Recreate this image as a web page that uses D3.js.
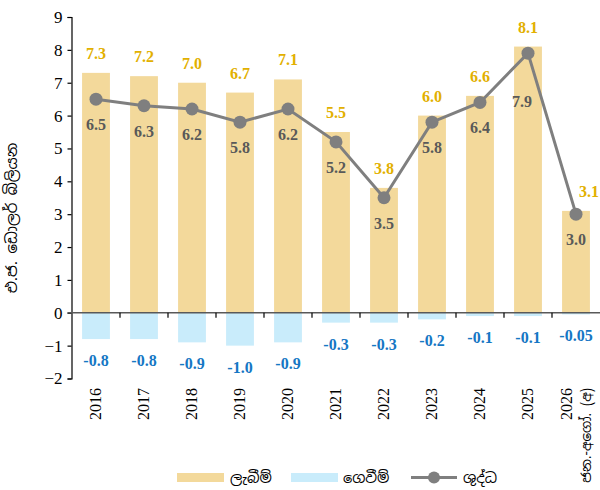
<!DOCTYPE html>
<html>
<head>
<meta charset="utf-8">
<script src="https://cdn.jsdelivr.net/npm/d3@7"></script>
<style>
  html, body { margin: 0; padding: 0; background: #fff; }
  svg { display: block; }
  .serif { font-family: "Times New Roman", "Liberation Serif", serif; }
  .sin { font-family: "Noto Sans Sinhala", "Iskoola Pota", "Noto Sans", sans-serif; }
</style>
</head>
<body>
<svg id="chart" width="600" height="490"></svg>
<script>
// Categories (years); the last one is a partial year, drawn on two lines
const years = ["2016", "2017", "2018", "2019", "2020", "2021", "2022", "2023", "2024", "2025", "2026"];
const lastYearNote = "ජන.-අගෝ. (අ)";

// Series values, US$ billion
const receipts = [7.3, 7.2, 7.0, 6.7, 7.1, 5.5, 3.8, 6.0, 6.6, 8.1, 3.1];
const payments = [-0.8, -0.8, -0.9, -1.0, -0.9, -0.3, -0.3, -0.2, -0.1, -0.1, -0.05];
const net      = [6.5, 6.3, 6.2, 5.8, 6.2, 5.2, 3.5, 5.8, 6.4, 7.9, 3.0];

// Axis ticks and text
const yTicks = [-2, -1, 0, 1, 2, 3, 4, 5, 6, 7, 8, 9];
const yTitle = "එ.ජ. ඩොලර් බිලියන";
const legendNames = ["ලැබීම්", "ගෙවීම්", "ශුද්ධ"];

const colReceipts = "#F3D99B";
const colPayments = "#C9ECFB";
const colNet = "#7F7F7F";
const colReceiptsText = "#E2B000";
const colPaymentsText = "#1577C4";
const colNetText = "#595959";
const serifFamily = '"Times New Roman", "Liberation Serif", serif';

const svg = d3.select("#chart");

const x = d3.scaleBand().domain(years).range([72, 600]).paddingInner(0.42).paddingOuter(0.21);
const y = d3.scaleLinear().domain([-2, 9]).range([378.5, 17]);
const step = x.step();
const cx = d => x(d) + x.bandwidth() / 2;

// Receipts bars
svg.append("g").selectAll("rect").data(years).join("rect")
  .attr("x", d => x(d))
  .attr("width", x.bandwidth())
  .attr("y", (d, i) => y(receipts[i]))
  .attr("height", (d, i) => y(0) - y(receipts[i]))
  .attr("fill", colReceipts);

// Payments bars
svg.append("g").selectAll("rect").data(years).join("rect")
  .attr("x", d => x(d))
  .attr("width", x.bandwidth())
  .attr("y", y(0))
  .attr("height", (d, i) => y(payments[i]) - y(0))
  .attr("fill", colPayments);

// Y axis
const yAxis = d3.axisLeft(y).tickValues(yTicks).tickSize(4).tickPadding(5).tickFormat(d3.format("d"));
const yg = svg.append("g").attr("transform", "translate(71.5,0)").call(yAxis)
  .attr("font-family", serifFamily).attr("font-size", 17);
yg.select(".domain").attr("stroke", "#000").attr("stroke-width", 1.2);
yg.selectAll(".tick line").attr("stroke", "#000").attr("stroke-width", 1.2);
yg.selectAll("text").attr("fill", "#000");

// Zero line and category separators
svg.append("line")
  .attr("x1", 67.5).attr("x2", 600)
  .attr("y1", y(0)).attr("y2", y(0))
  .attr("stroke", "#595959").attr("stroke-width", 1.6);
svg.append("g").selectAll("line").data(years.slice(1)).join("line")
  .attr("x1", d => x(d) - step * x.paddingInner() / 2)
  .attr("x2", d => x(d) - step * x.paddingInner() / 2)
  .attr("y1", y(0)).attr("y2", y(0) + 5)
  .attr("stroke", "#000").attr("stroke-width", 1.2);

// Year labels, rotated
const xl = svg.append("g");
years.forEach((d, i) => {
  const last = i === years.length - 1;
  xl.append("text")
    .attr("font-family", serifFamily)
    .attr("font-size", 16)
    .attr("fill", "#000")
    .attr("text-anchor", "end")
    .attr("transform", `translate(${cx(d) + (last ? -4 : 5)},388) rotate(-90)`)
    .text(d);
  if (last) {
    xl.append("text")
      .attr("class", "sin")
      .attr("font-size", 13.5)
      .attr("fill", "#000")
      .attr("text-anchor", "end")
      .attr("transform", `translate(${cx(d) + 15},388) rotate(-90)`)
      .text(lastYearNote);
  }
});

// Net line and markers
const line = d3.line().x((d, i) => cx(years[i])).y(d => y(d));
svg.append("path").datum(net)
  .attr("d", line)
  .attr("fill", "none")
  .attr("stroke", colNet)
  .attr("stroke-width", 3);
svg.append("g").selectAll("circle").data(net).join("circle")
  .attr("cx", (d, i) => cx(years[i]))
  .attr("cy", d => y(d))
  .attr("r", 6.5)
  .attr("fill", colNet);

// Value labels
const lab = svg.append("g")
  .attr("font-family", serifFamily).attr("font-size", 16)
  .attr("font-weight", "bold").attr("text-anchor", "middle");
receipts.forEach((v, i) => {
  const last = i === years.length - 1;
  lab.append("text")
    .attr("x", cx(years[i]) + (last ? 13 : 0))
    .attr("y", y(v) - 14)
    .attr("fill", colReceiptsText)
    .text(v.toFixed(1));
});
payments.forEach((v, i) => {
  lab.append("text")
    .attr("x", cx(years[i]))
    .attr("y", y(v) + 27)
    .attr("fill", colPaymentsText)
    .text(Math.abs(v) < 0.1 ? v.toFixed(2) : v.toFixed(1));
});
net.forEach((v, i) => {
  const shift = i === 9 ? { dx: -6, dy: 54 } : { dx: 0, dy: 31 };
  lab.append("text")
    .attr("x", cx(years[i]) + shift.dx)
    .attr("y", y(v) + shift.dy)
    .attr("fill", colNetText)
    .text(v.toFixed(1));
});

// Y axis title
svg.append("text")
  .attr("class", "sin")
  .attr("font-size", 15)
  .attr("fill", "#000")
  .attr("text-anchor", "middle")
  .attr("transform", "translate(17,218) rotate(-90)")
  .text(yTitle);

// Legend
const lg = svg.append("g");
lg.append("rect").attr("x", 177).attr("y", 473).attr("width", 47).attr("height", 9).attr("fill", colReceipts);
lg.append("text").attr("class", "sin").attr("x", 230).attr("y", 483).attr("font-size", 14.5).text(legendNames[0]);
lg.append("rect").attr("x", 291).attr("y", 473).attr("width", 47).attr("height", 9).attr("fill", colPayments);
lg.append("text").attr("class", "sin").attr("x", 343).attr("y", 483).attr("font-size", 14.5).text(legendNames[1]);
lg.append("line").attr("x1", 411).attr("x2", 457).attr("y1", 477.5).attr("y2", 477.5).attr("stroke", colNet).attr("stroke-width", 3);
lg.append("circle").attr("cx", 434).attr("cy", 477.5).attr("r", 6).attr("fill", colNet);
lg.append("text").attr("class", "sin").attr("x", 463).attr("y", 483).attr("font-size", 14.5).text(legendNames[2]);
</script>
</body>
</html>
